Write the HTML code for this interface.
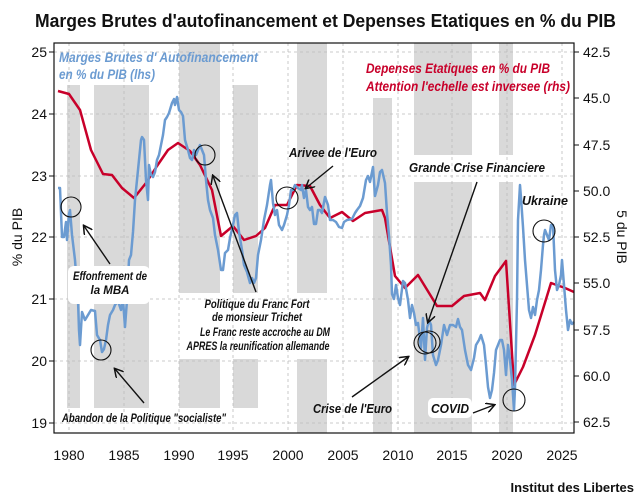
<!DOCTYPE html>
<html><head><meta charset="utf-8"><style>
html,body{margin:0;padding:0;background:#fff}
svg{display:block}
text{font-family:"Liberation Sans",sans-serif}
.t{font-size:14px;fill:#111}
.a{font-size:11.5px;font-weight:bold;font-style:italic;fill:#111}
</style></head><body>
<svg width="640" height="497" viewBox="0 0 640 497" xmlns="http://www.w3.org/2000/svg">
<text x="35" y="27" font-size="18" font-weight="bold" textLength="581" lengthAdjust="spacingAndGlyphs" fill="#111">Marges Brutes d'autofinancement et Depenses Etatiques en % du PIB</text>
<g fill="#d9d9d9">
<rect x="67" y="85" width="13" height="323"/>
<rect x="94" y="85" width="55" height="323"/>
<rect x="179" y="43" width="41" height="250"/><rect x="179" y="359" width="41" height="49"/>
<rect x="233" y="85" width="25" height="208"/><rect x="233" y="359" width="25" height="49"/>
<rect x="297" y="43" width="30" height="250"/><rect x="297" y="359" width="30" height="74"/>
<rect x="373" y="98" width="19" height="335"/>
<rect x="414" y="43" width="58" height="112"/><rect x="414" y="182" width="58" height="251"/>
<rect x="499" y="43" width="14" height="112"/><rect x="499" y="182" width="14" height="251"/>
</g>
<g stroke="#bbb" stroke-dasharray="3,3" stroke-width="0.8">
<line x1="54" x2="574" y1="52" y2="52"/><line x1="54" x2="574" y1="114" y2="114"/><line x1="54" x2="574" y1="176" y2="176"/><line x1="54" x2="574" y1="237" y2="237"/><line x1="54" x2="574" y1="299" y2="299"/><line x1="54" x2="574" y1="361" y2="361"/><line x1="54" x2="574" y1="423" y2="423"/>
<line x1="69" x2="69" y1="43" y2="433"/><line x1="124" x2="124" y1="43" y2="433"/><line x1="179" x2="179" y1="43" y2="433"/><line x1="233" x2="233" y1="43" y2="433"/><line x1="288" x2="288" y1="43" y2="433"/><line x1="343" x2="343" y1="43" y2="433"/><line x1="398" x2="398" y1="43" y2="433"/><line x1="452" x2="452" y1="43" y2="433"/><line x1="507" x2="507" y1="43" y2="433"/><line x1="562" x2="562" y1="43" y2="433"/>
</g>
<polyline fill="none" stroke="#c8002a" stroke-width="2.5" stroke-linejoin="round" points="58,91 69,94 80,110 91,150 103,174 112,175 122,188 134,198 146,183 157,166 168,150 178,143 190,151 200,165 212,190 221,236 233,226 244,240 256,236 265,228 275,205 287,205 297,185 310,186 320,205 330,218 342,212 353,221 365,213 382,210 385,218 395,276 405,288 418,275 437,306 452,306 464,296 480,293 485,300 495,276 506,261 514,385 523,367 535,335 551,283 565,288 574,292"/>
<polyline fill="none" stroke="#6b9bd1" stroke-width="2.5" stroke-linejoin="round" points="58,188 60,188 62,237 64,237 66,222 67,240 69,214 70,210 72,235 75,260 78,300 79,330 80,345 82,312 85,320 88,315 91,310 95,311 97,335 100,340 102,352 104,349 106,340 108,325 110,315 113,310 115,305 118,301 121,310 123,300 125,327 127,300 129,260 131,255 133,232 135,200 137,180 139,160 141,140 142,137 144,140 146,180 148,200 149,165 151,175 153,177 155,172 157,160 159,155 161,145 163,135 165,120 167,117 169,113 172,103 174,99 175,105 177,97 179,110 181,112 183,116 185,140 188,150 190,158 192,160 194,150 196,155 198,150 200,145 202,150 204,155 206,180 208,200 210,210 213,218 215,235 218,250 221,270 223,270 225,253 228,250 230,238 233,225 235,215 237,213 239,232 242,250 244,265 247,272 250,283 252,278 254,283 256,278 258,255 261,240 264,220 267,205 270,185 271,180 273,203 275,215 277,210 279,225 282,230 284,225 287,215 289,205 291,190 293,190 295,185 298,188 301,190 302,185 304,198 306,190 308,207 310,210 312,207 314,224 316,224 318,210 320,210 322,213 325,197 328,205 330,220 333,220 336,222 339,227 342,228 344,222 347,220 352,219 355,213 357,210 360,206 363,198 366,180 368,176 370,182 373,167 375,196 378,185 380,172 382,170 385,183 387,213 389,236 391,265 392,294 394,299 396,285 398,298 400,305 403,281 405,283 408,300 410,318 412,305 414,313 416,325 418,323 420,339 421,348 423,318 425,360 427,328 429,320 431,325 433,355 436,365 438,360 441,345 444,325 447,335 450,325 453,325 456,327 458,319 460,327 462,330 465,350 468,365 471,370 474,358 476,345 479,340 481,335 484,345 486,365 488,387 490,398 492,390 494,373 496,350 498,345 500,340 502,340 504,350 506,375 508,345 510,360 512,380 514,410 515,388 517,300 518,220 520,185 521,198 523,227 525,260 527,285 529,310 531,318 533,307 535,315 537,300 539,290 541,270 543,245 544,235 545,230 547,235 549,240 551,225 553,225 555,270 557,290 559,285 561,275 562,260 564,285 566,310 568,330 570,320 572,324 574,322"/>
<rect x="54" y="43" width="520" height="390" fill="none" stroke="#111" stroke-width="1.2"/>
<g stroke="#111" stroke-width="1">
<line x1="49" x2="54" y1="52" y2="52"/><line x1="49" x2="54" y1="114" y2="114"/><line x1="49" x2="54" y1="176" y2="176"/><line x1="49" x2="54" y1="237" y2="237"/><line x1="49" x2="54" y1="299" y2="299"/><line x1="49" x2="54" y1="361" y2="361"/><line x1="49" x2="54" y1="423" y2="423"/>
<line x1="574" x2="579" y1="52" y2="52"/><line x1="574" x2="579" y1="98" y2="98"/><line x1="574" x2="579" y1="145" y2="145"/><line x1="574" x2="579" y1="191" y2="191"/><line x1="574" x2="579" y1="237" y2="237"/><line x1="574" x2="579" y1="283" y2="283"/><line x1="574" x2="579" y1="330" y2="330"/><line x1="574" x2="579" y1="376" y2="376"/><line x1="574" x2="579" y1="422" y2="422"/>
</g>
<g class="t" text-anchor="end">
<text x="47" y="57">25</text><text x="47" y="119">24</text><text x="47" y="181">23</text><text x="47" y="242">22</text><text x="47" y="304">21</text><text x="47" y="366">20</text><text x="47" y="428">19</text>
</g>
<g class="t">
<text x="583" y="57">42.5</text><text x="583" y="103">45.0</text><text x="583" y="150">47.5</text><text x="583" y="196">50.0</text><text x="583" y="242">52.5</text><text x="583" y="288">55.0</text><text x="583" y="335">57.5</text><text x="583" y="381">60.0</text><text x="583" y="427">62.5</text>
</g>
<g class="t" text-anchor="middle">
<text x="69" y="460">1980</text><text x="124" y="460">1985</text><text x="179" y="460">1990</text><text x="233" y="460">1995</text><text x="288" y="460">2000</text><text x="343" y="460">2005</text><text x="398" y="460">2010</text><text x="452" y="460">2015</text><text x="507" y="460">2020</text><text x="562" y="460">2025</text>
</g>
<text class="t" transform="translate(22,237) rotate(-90)" text-anchor="middle">% du PIB</text>
<text class="t" transform="translate(617,237) rotate(90)" text-anchor="middle">5 du PIB</text>
<text x="634" y="492" text-anchor="end" font-size="13" font-weight="bold" fill="#111">Institut des Libertes</text>
<g font-size="13.5" font-weight="bold" font-style="italic" fill="#6b9bd1">
<text x="59" y="62" textLength="199" lengthAdjust="spacingAndGlyphs">Marges Brutes d' Autofinancement</text>
<text x="59" y="79" textLength="96" lengthAdjust="spacingAndGlyphs">en % du PIB (lhs)</text>
</g>
<g font-size="13.5" font-weight="bold" font-style="italic" fill="#c8002a">
<text x="366" y="73" textLength="184" lengthAdjust="spacingAndGlyphs">Depenses Etatiques en % du PIB</text>
<text x="366" y="91" textLength="204" lengthAdjust="spacingAndGlyphs">Attention l'echelle est inversee (rhs)</text>
</g>
<rect x="68" y="266" width="82" height="38" rx="6" fill="#fff"/>
<rect x="428" y="398" width="44" height="20" rx="5" fill="#fff"/>
<g class="a">
<text x="289" y="157" font-size="12.5" textLength="88" lengthAdjust="spacingAndGlyphs">Arivee de l'Euro</text>
<text x="409" y="172" font-size="12.5" textLength="136" lengthAdjust="spacingAndGlyphs">Grande Crise Financiere</text>
<text x="522" y="205" font-size="12.5" textLength="46" lengthAdjust="spacingAndGlyphs">Ukraine</text>
<text x="110" y="280" text-anchor="middle" textLength="74" lengthAdjust="spacingAndGlyphs">Effonfrement de</text>
<text x="110" y="294" text-anchor="middle">la MBA</text>
<text x="257" y="308" text-anchor="middle" textLength="105" lengthAdjust="spacingAndGlyphs">Politique du Franc Fort</text>
<text x="257" y="321" text-anchor="middle" textLength="90" lengthAdjust="spacingAndGlyphs">de monsieur Trichet</text>
<text x="265" y="336" text-anchor="middle" textLength="130" lengthAdjust="spacingAndGlyphs">Le Franc reste accroche au DM</text>
<text x="258" y="350" text-anchor="middle" textLength="143" lengthAdjust="spacingAndGlyphs">APRES la reunification allemande</text>
<text x="62" y="422" textLength="164" lengthAdjust="spacingAndGlyphs">Abandon de la Politique "socialiste"</text>
<text x="313" y="413" font-size="12.5" textLength="79" lengthAdjust="spacingAndGlyphs">Crise de l'Euro</text>
<text x="431" y="413" font-size="12.5" textLength="38" lengthAdjust="spacingAndGlyphs">COVID</text>
</g>
<g fill="none" stroke="#111" stroke-width="1.1">
<circle cx="71" cy="207" r="10"/><circle cx="101" cy="350" r="10"/><circle cx="205" cy="155" r="10"/><circle cx="287" cy="198" r="11"/><circle cx="425" cy="343" r="11"/><circle cx="429" cy="342" r="11"/><circle cx="544" cy="231" r="11"/><circle cx="514" cy="400" r="11"/>
</g>
<defs><marker id="ar" markerWidth="10" markerHeight="10" refX="8" refY="5" orient="auto" markerUnits="userSpaceOnUse"><path d="M0,0 L9,5 L0,10" fill="none" stroke="#111" stroke-width="1.5"/></marker></defs>
<g stroke="#111" stroke-width="1.4" marker-end="url(#ar)">
<line x1="110" y1="264" x2="84" y2="226"/>
<line x1="144" y1="403" x2="115" y2="369"/>
<line x1="256" y1="292" x2="213" y2="176"/>
<line x1="333" y1="166" x2="306" y2="188"/>
<line x1="477" y1="182" x2="428" y2="322"/>
<line x1="352" y1="397" x2="408" y2="357"/>
<line x1="473" y1="413" x2="494" y2="405"/>
</g>
</svg>
</body></html>
